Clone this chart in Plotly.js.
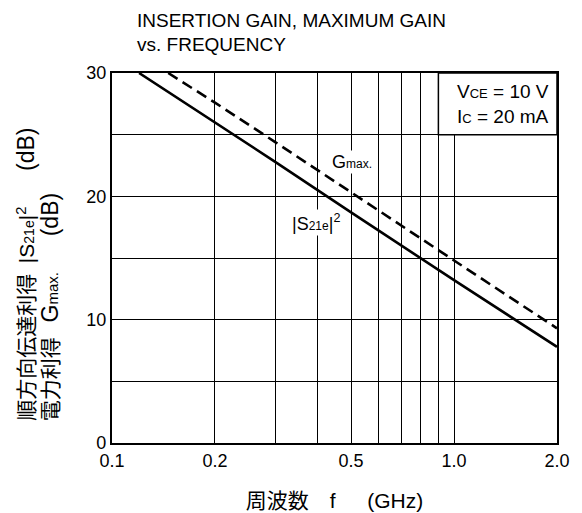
<!DOCTYPE html>
<html>
<head>
<meta charset="utf-8">
<script src="https://cdn.plot.ly/plotly-3.0.1.min.js"></script>
<style>html,body{margin:0;padding:0;background:#fff;}#chart{width:582px;height:513px;}</style>
</head>
<body>
<div id="chart"></div>
<script>
// Data
const freqS21 = [0.12, 0.2, 0.3, 0.5, 1.0, 2.0];
const gainS21 = [30, 26.0, 22.8, 18.7, 13.2, 7.8];
const freqGmax = [0.146, 0.2, 0.3, 0.5, 1.0, 2.0];
const gainGmax = [30, 27.6, 24.4, 20.3, 14.8, 9.3];
const xTickVals = [0.1, 0.2, 0.3, 0.4, 0.5, 0.6, 0.7, 0.8, 0.9, 1.0, 2.0];
const xTickText = ['0.1', '0.2', '', '', '0.5', '', '', '', '', '1.0', '2.0'];
const yTickVals = [0, 5, 10, 15, 20, 25, 30];
const yTickText = ['0', '', '10', '', '20', '', '30'];

const FONT = 'Liberation Sans, Arial, Noto Sans CJK JP, sans-serif';
const JFONT = 'Liberation Sans, Arial, Noto Sans CJK JP, sans-serif';
const EM = '\u2003', EN = '\u2002', THIN = '\u2009';

const traces = [
  {x: freqS21, y: gainS21, mode: 'lines', type: 'scatter',
   line: {color: '#000', width: 2.6}, name: '|S21e|²'},
  {x: freqGmax, y: gainGmax, mode: 'lines', type: 'scatter',
   line: {color: '#000', width: 2.6, dash: '11px,6px'}, name: 'Gmax.'}
];

const dB = '<span style="font-size:23px">(dB)</span>';

const layout = {
  width: 582, height: 513,
  margin: {l: 112, r: 25, t: 73, b: 70},
  paper_bgcolor: '#fff', plot_bgcolor: '#fff',
  showlegend: false,
  font: {family: FONT, color: '#000', size: 18},
  title: {
    text: 'INSERTION GAIN, MAXIMUM GAIN<br>vs. FREQUENCY',
    x: 137 / 582, xref: 'container', xanchor: 'left', y: 0.948, yanchor: 'top',
    font: {family: FONT, size: 19, color: '#000'}
  },
  xaxis: {
    type: 'log', range: [-1, Math.log10(2)],
    tickvals: xTickVals, ticktext: xTickText,
    showgrid: true, gridcolor: '#000', gridwidth: 1,
    showline: true, linecolor: '#000', linewidth: 2.2, mirror: true,
    ticks: '', zeroline: false,
    tickfont: {family: FONT, size: 18},
    title: {text: '周波数' + EM + 'f' + EM + EN + '(GHz)', standoff: 24, font: {family: JFONT, size: 21}}
  },
  yaxis: {
    range: [0, 30],
    tickvals: yTickVals, ticktext: yTickText,
    showgrid: true, gridcolor: '#000', gridwidth: 1,
    showline: true, linecolor: '#000', linewidth: 2.2, mirror: true,
    ticks: '', zeroline: false,
    tickfont: {family: FONT, size: 18}
  },
  shapes: [
    {type: 'rect', xref: 'x', yref: 'y', x0: 0.9, x1: 2.0, y0: 25, y1: 30,
     fillcolor: '#fff', line: {color: '#000', width: 1.5}, layer: 'above'}
  ],
  annotations: [
    {xref: 'paper', yref: 'paper', x: 1, y: 1, xanchor: 'right', yanchor: 'top',
     xshift: -6, yshift: -6, align: 'left', showarrow: false,
     text: 'V<span style="font-size:13px">CE</span> = 10 V<br>I<span style="font-size:13px">C</span> = 20 mA',
     font: {family: FONT, size: 19, color: '#000'}},
    {xref: 'x', yref: 'y', x: -0.299, y: 22.8, showarrow: false,
     bgcolor: '#fff', borderpad: 1,
     text: 'G<span style="font-size:12px">max.</span>',
     font: {family: FONT, size: 18, color: '#000'}},
    {xref: 'x', yref: 'y', x: -0.404, y: 17.9, showarrow: false,
     bgcolor: '#fff', borderpad: 1,
     text: '|S<span style="font-size:12px">21e</span>|<sup>2</sup>',
     font: {family: JFONT, size: 18, color: '#000'}},
    {xref: 'paper', yref: 'paper', x: -0.193, y: 0.054, xanchor: 'center', yanchor: 'bottom',
     textangle: -90, showarrow: false,
     text: '順方向伝達利得' + EN + '|S<span style="font-size:14px">21e</span>|<sup>2</sup>' + EM + EN + THIN + dB,
     font: {family: JFONT, size: 21, color: '#000'}},
    {xref: 'paper', yref: 'paper', x: -0.139, y: 0.054, xanchor: 'center', yanchor: 'bottom',
     textangle: -90, showarrow: false,
     text: '電力利得' + EN + THIN + '<span style="font-size:23px">G</span><span style="font-size:15px">max.</span>' + EM + EN + THIN + dB,
     font: {family: JFONT, size: 21, color: '#000'}}
  ]
};

Plotly.newPlot('chart', traces, layout, {displayModeBar: false, staticPlot: true});
</script>
</body>
</html>
